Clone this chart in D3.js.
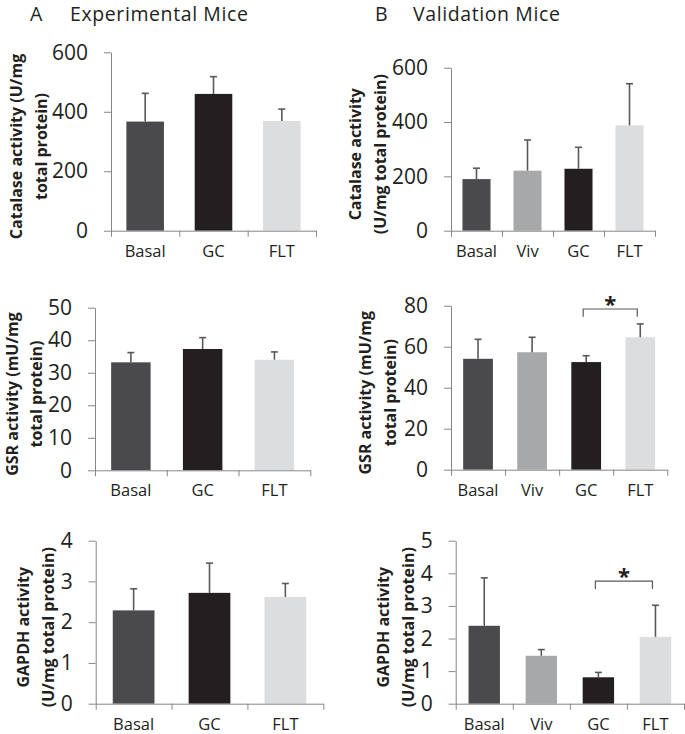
<!DOCTYPE html>
<html lang="en">
  <head>
    <meta charset="utf-8" />
    <title>Antioxidant enzyme activity</title>
    <script src="https://cdn.jsdelivr.net/npm/d3@7"></script>
    <style>
      body { margin: 0; background: #fff; }
      svg { display: block; font-family: "Open Sans", sans-serif; }
    </style>
  </head>
  <body>
    <script>
      // groups
      const groupsA = ["Basal", "GC", "FLT"];
      const groupsB = ["Basal", "Viv", "GC", "FLT"];

      // means
      const catalaseA = [367, 460, 369];
      const catalaseB = [190, 221, 228, 388];
      const gsrA = [33.2, 37.3, 34.0];
      const gsrB = [54.1, 57.3, 52.5, 64.6];
      const gapdhA = [2.29, 2.72, 2.62];
      const gapdhB = [2.39, 1.47, 0.81, 2.05];

      // top of the error bars
      const catalaseAErr = [462, 518, 409];
      const catalaseBErr = [230, 334, 307, 541];
      const gsrAErr = [36.2, 40.8, 36.4];
      const gsrBErr = [63.6, 64.6, 55.6, 71.1];
      const gapdhAErr = [2.82, 3.45, 2.95];
      const gapdhBErr = [3.86, 1.66, 0.96, 3.02];

      // y axis ticks
      const catalaseTicks = [0, 200, 400, 600];
      const gsrATicks = [0, 10, 20, 30, 40, 50];
      const gsrBTicks = [0, 20, 40, 60, 80];
      const gapdhATicks = [0, 1, 2, 3, 4];
      const gapdhBTicks = [0, 1, 2, 3, 4, 5];

      const colors = { Basal: "#4a4a4c", Viv: "#a7a8aa", GC: "#231f20", FLT: "#dcdddf" };

      const width = 685, height = 734;
      const svg = d3.select("body").append("svg")
        .attr("width", width)
        .attr("height", height);

      // panel headers
      const headers = [
        { letter: "A", text: "Experimental Mice", x: 30, tx: 70 },
        { letter: "B", text: "Validation Mice", x: 375, tx: 413 },
      ];
      headers.forEach(h => {
        svg.append("text").attr("x", h.x).attr("y", 20.5)
          .attr("font-size", 19.5).attr("fill", "#231f20").text(h.letter);
        svg.append("text").attr("x", h.tx).attr("y", 20.5)
          .attr("font-size", 19.5).attr("letter-spacing", 0.6)
          .attr("fill", "#231f20").text(h.text);
      });

      const panels = [
        { cats: groupsA, vals: catalaseA, errs: catalaseAErr, ticks: catalaseTicks,
          x0: 111, x1: 316, y0: 230.7, y1: 52.3,
          title: ["Catalase activity (U/mg", "total protein)"], tx: 16 },
        { cats: groupsB, vals: catalaseB, errs: catalaseBErr, ticks: catalaseTicks,
          x0: 451, x1: 655, y0: 230.7, y1: 67.7,
          title: ["Catalase activity", "(U/mg total protein)"], tx: 355 },
        { cats: groupsA, vals: gsrA, errs: gsrAErr, ticks: gsrATicks,
          x0: 95, x1: 310.3, y0: 470.3, y1: 307.7,
          title: ["GSR activity (mU/mg", "total protein)"], tx: 11.5 },
        { cats: groupsB, vals: gsrB, errs: gsrBErr, ticks: gsrBTicks,
          x0: 451, x1: 667.3, y0: 469.7, y1: 305.7,
          title: ["GSR activity (mU/mg", "total protein)"], tx: 365,
          sig: { from: "GC", to: "FLT", top: 78.4, leg: 74.6, star: 83 } },
        { cats: groupsA, vals: gapdhA, errs: gapdhAErr, ticks: gapdhATicks,
          x0: 95.7, x1: 323.3, y0: 703.7, y1: 540.7,
          title: ["GAPDH activity", "(U/mg total protein)"], tx: 23 },
        { cats: groupsB, vals: gapdhB, errs: gapdhBErr, ticks: gapdhBTicks,
          x0: 455.7, x1: 684, y0: 703.7, y1: 540.7,
          title: ["GAPDH activity", "(U/mg total protein)"], tx: 383,
          sig: { from: "GC", to: "FLT", top: 3.76, leg: 3.52, star: 4.05 } },
      ];

      panels.forEach(p => {
        const g = svg.append("g");
        const x = d3.scaleBand().domain(p.cats).range([p.x0, p.x1])
          .paddingInner(0.45).paddingOuter(0.225);
        const y = d3.scaleLinear().domain([0, d3.max(p.ticks)]).range([p.y0, p.y1]);
        const data = p.cats.map((c, i) => ({ c, v: p.vals[i], e: p.errs[i] }));

        // bars
        g.selectAll("rect.bar").data(data).join("rect")
          .attr("x", d => x(d.c))
          .attr("y", d => y(d.v))
          .attr("width", x.bandwidth())
          .attr("height", d => y(0) - y(d.v))
          .attr("fill", d => colors[d.c]);

        // error bars (upper only)
        const eb = g.selectAll("g.err").data(data).join("g")
          .attr("stroke", "#595959").attr("stroke-width", 1.6);
        eb.append("line")
          .attr("x1", d => x(d.c) + x.bandwidth() / 2)
          .attr("x2", d => x(d.c) + x.bandwidth() / 2)
          .attr("y1", d => y(d.v)).attr("y2", d => y(d.e));
        eb.append("line")
          .attr("x1", d => x(d.c) + x.bandwidth() / 2 - 3.5)
          .attr("x2", d => x(d.c) + x.bandwidth() / 2 + 3.5)
          .attr("y1", d => y(d.e)).attr("y2", d => y(d.e));

        // y axis
        const ya = g.append("g").attr("transform", `translate(${p.x0},0)`)
          .call(d3.axisLeft(y).tickValues(p.ticks).tickFormat(d3.format("d"))
            .tickSize(7).tickPadding(16).tickSizeOuter(0));
        ya.select(".domain").attr("stroke", "#868686");
        ya.selectAll(".tick line").attr("stroke", "#868686");
        ya.selectAll(".tick text").attr("font-size", 21).attr("fill", "#231f20")
          .attr("font-family", "Open Sans");

        // x axis with separators between groups
        const xb = d3.scaleLinear().domain([0, p.cats.length]).range([p.x0, p.x1]);
        const xa = g.append("g").attr("transform", `translate(0,${p.y0})`)
          .call(d3.axisBottom(xb).tickValues(d3.range(p.cats.length + 1))
            .tickSize(6).tickSizeOuter(0).tickFormat(""));
        xa.select(".domain").attr("stroke", "#868686");
        xa.selectAll(".tick line").attr("stroke", "#868686");

        g.selectAll("text.cat").data(p.cats).join("text")
          .attr("class", "cat")
          .attr("x", c => x(c) + x.bandwidth() / 2)
          .attr("y", p.y0 + 26)
          .attr("text-anchor", "middle")
          .attr("font-size", 16.5).attr("fill", "#231f20")
          .text(c => c);

        // y axis title, two rotated lines
        const cy = (p.y0 + p.y1) / 2 + 5;
        p.title.forEach((t, i) => {
          g.append("text")
            .attr("transform", `translate(${p.tx + i * 24.5},${cy}) rotate(-90)`)
            .attr("text-anchor", "middle")
            .attr("dominant-baseline", "central")
            .attr("font-size", 16).attr("font-weight", "bold").attr("fill", "#231f20")
            .text(t);
        });

        // significance bracket
        if (p.sig) {
          const xa1 = x(p.sig.from) + x.bandwidth() / 2 - 3;
          const xa2 = x(p.sig.to) + x.bandwidth() / 2 - 3;
          g.append("path")
            .attr("d", `M${xa1},${y(p.sig.leg)}V${y(p.sig.top)}H${xa2}V${y(p.sig.leg)}`)
            .attr("fill", "none").attr("stroke", "#595959").attr("stroke-width", 1.2);
          g.append("text")
            .attr("x", (xa1 + xa2) / 2)
            .attr("y", y(p.sig.star) + 12)
            .attr("text-anchor", "middle")
            .attr("font-size", 22).attr("font-weight", "bold").attr("fill", "#231f20")
            .text("*");
        }
      });
    </script>
  </body>
</html>
